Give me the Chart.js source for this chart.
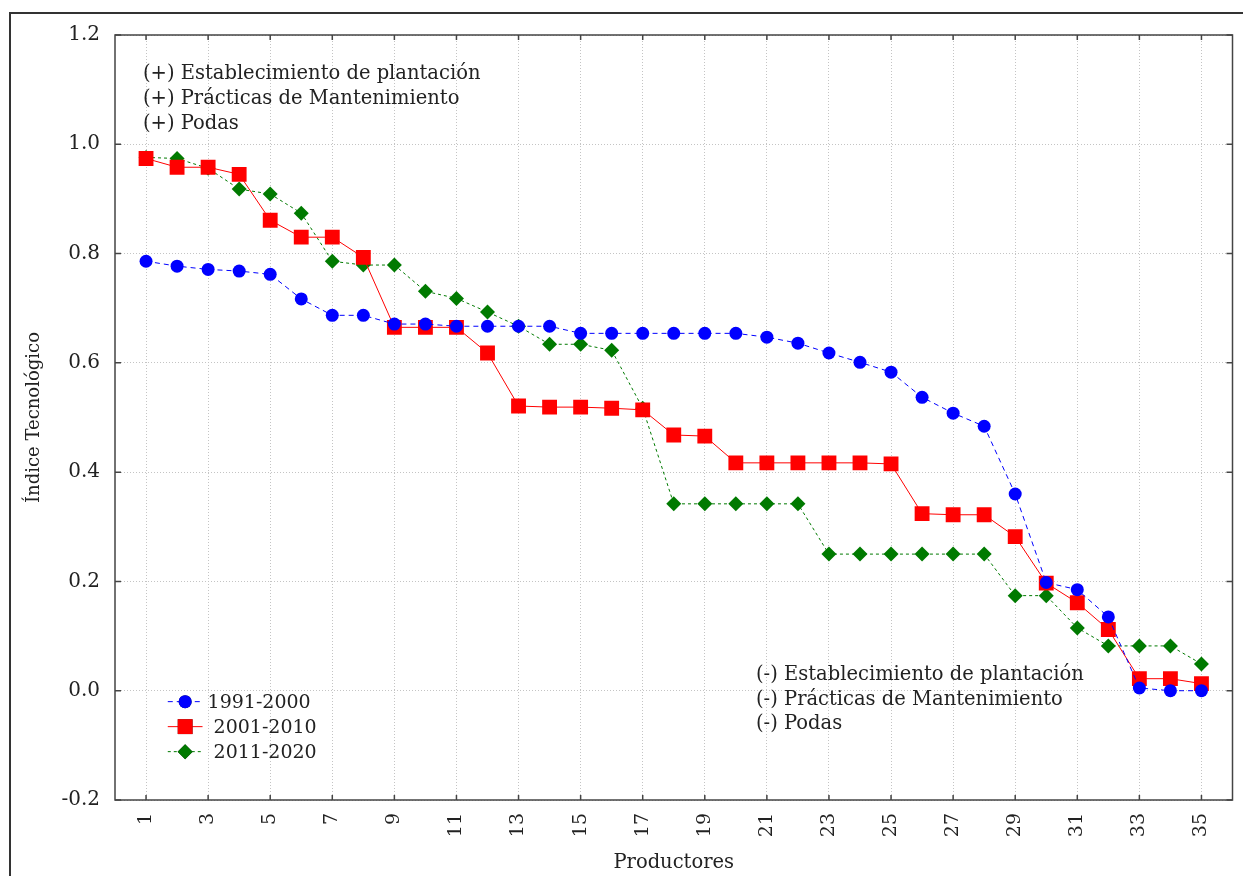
<!DOCTYPE html>
<html>
<head>
<meta charset="utf-8">
<script src="https://cdn.jsdelivr.net/npm/chart.js@4/dist/chart.umd.min.js"></script>
<style>
  body { margin: 0; background: #fff; }
  #wrap { width: 1243px; height: 876px; position: relative; }
</style>
</head>
<body>
<div id="wrap"><canvas id="chart"></canvas></div>
<script>
// Productores 1..35
const productores = [1, 2, 3, 4, 5, 6, 7, 8, 9, 10, 11, 12, 13, 14, 15, 16, 17, 18,
  19, 20, 21, 22, 23, 24, 25, 26, 27, 28, 29, 30, 31, 32, 33, 34, 35];
const xTickValues = [1, 3, 5, 7, 9, 11, 13, 15, 17, 19, 21, 23, 25, 27, 29, 31, 33, 35];
const yTickValues = [-0.2, 0.0, 0.2, 0.4, 0.6, 0.8, 1.0, 1.2];

const serie1991 = [0.786, 0.777, 0.771, 0.768, 0.762, 0.717, 0.687, 0.687, 0.671, 0.671,
  0.667, 0.667, 0.667, 0.667, 0.654, 0.654, 0.654, 0.654, 0.654, 0.654,
  0.647, 0.636, 0.618, 0.601, 0.583, 0.537, 0.508, 0.484, 0.360, 0.198,
  0.185, 0.135, 0.005, 0.0, 0.0];
const serie2001 = [0.974, 0.958, 0.958, 0.945, 0.861, 0.830, 0.830, 0.793, 0.665, 0.665,
  0.665, 0.618, 0.521, 0.519, 0.519, 0.517, 0.514, 0.468, 0.466, 0.417,
  0.417, 0.417, 0.417, 0.417, 0.415, 0.324, 0.322, 0.322, 0.282, 0.197,
  0.161, 0.112, 0.022, 0.022, 0.013];
const serie2011 = [0.976, 0.974, 0.956, 0.918, 0.909, 0.874, 0.786, 0.779, 0.779, 0.731,
  0.718, 0.693, 0.667, 0.634, 0.634, 0.623, 0.517, 0.342, 0.342, 0.342,
  0.342, 0.342, 0.250, 0.250, 0.250, 0.250, 0.250, 0.250, 0.174, 0.174,
  0.115, 0.082, 0.082, 0.082, 0.049];

const notaArriba = ["(+) Establecimiento de plantación", "(+) Prácticas de Mantenimiento", "(+) Podas"];
const notaAbajo = ["(-) Establecimiento de plantación", "(-) Prácticas de Mantenimiento", "(-) Podas"];

const serif = "'DejaVu Serif', 'Liberation Serif', serif";

function pts(vals) {
  return vals.map((v, i) => ({ x: productores[i], y: v }));
}

// frame, inward ticks, notes and the legend box
const extras = {
  id: "extras",
  afterDraw(chart) {
    const c = chart.ctx;
    const a = chart.chartArea;
    const xs = chart.scales.x, ys = chart.scales.y;
    c.save();
    // outer frame
    c.strokeStyle = "#333";
    c.lineWidth = 2;
    c.beginPath();
    c.moveTo(1243, 13); c.lineTo(10, 13); c.lineTo(10, 876);
    c.stroke();
    // plot frame
    c.strokeStyle = "#444";
    c.lineWidth = 1.5;
    c.strokeRect(a.left, a.top, a.right - a.left, a.bottom - a.top);
    // ticks pointing inward
    c.beginPath();
    xTickValues.forEach(v => {
      const px = xs.getPixelForValue(v);
      c.moveTo(px, a.bottom); c.lineTo(px, a.bottom - 5);
      c.moveTo(px, a.top); c.lineTo(px, a.top + 5);
    });
    yTickValues.forEach(v => {
      const py = ys.getPixelForValue(v);
      c.moveTo(a.left, py); c.lineTo(a.left + 6, py);
      c.moveTo(a.right, py); c.lineTo(a.right - 6, py);
    });
    c.stroke();
    // notes
    c.fillStyle = "#222";
    c.font = "19.5px " + serif;
    c.textBaseline = "middle";
    c.textAlign = "left";
    notaArriba.forEach((t, i) => {
      c.fillText(t, xs.getPixelForValue(0.9), ys.getPixelForValue(1.128) + i * 25);
    });
    notaAbajo.forEach((t, i) => {
      c.fillText(t, xs.getPixelForValue(20.65), ys.getPixelForValue(0.028) + i * 24.5);
    });
    // legend
    const lx0 = xs.getPixelForValue(1.7), lx1 = xs.getPixelForValue(2.82);
    const ly = ys.getPixelForValue(-0.02);
    c.font = "19px " + serif;
    chart.data.datasets.forEach((ds, i) => {
      const y = ly + i * 25;
      c.strokeStyle = ds.borderColor;
      c.lineWidth = 1;
      c.setLineDash(ds.borderDash || []);
      c.beginPath(); c.moveTo(lx0, y); c.lineTo(lx1, y); c.stroke();
      c.setLineDash([]);
      Chart.helpers.drawPoint(c, {
        pointStyle: ds.pointStyle, radius: ds.pointRadius, borderWidth: 0, rotation: 0
      }, (lx0 + lx1) / 2, y);
      c.fillStyle = ds.backgroundColor;
      c.fill();
      c.fillStyle = "#222";
      c.fillText(ds.label, lx1 + (i === 0 ? 5 : 11), y + 1);
    });
    c.restore();
  }
};

new Chart(document.getElementById("chart"), {
  type: "line",
  data: {
    datasets: [
      {
        label: "1991-2000",
        data: pts(serie1991),
        borderColor: "#0000ff",
        backgroundColor: "#0000ff",
        borderWidth: 1,
        borderDash: [5, 4],
        pointStyle: "circle",
        pointRadius: 6.5,
        pointBorderWidth: 0,
        tension: 0,
      },
      {
        label: "2001-2010",
        data: pts(serie2001),
        borderColor: "#ff0000",
        backgroundColor: "#ff0000",
        borderWidth: 1,
        pointStyle: "rect",
        pointRadius: 10.5,
        pointBorderWidth: 0,
        tension: 0,
      },
      {
        label: "2011-2020",
        data: pts(serie2011),
        borderColor: "#007a00",
        backgroundColor: "#007a00",
        borderWidth: 1,
        borderDash: [3, 3],
        pointStyle: "rectRot",
        pointRadius: 7.5,
        pointBorderWidth: 0,
        tension: 0,
      },
    ],
  },
  options: {
    responsive: true,
    maintainAspectRatio: false,
    animation: false,
    layout: { padding: { left: 22, right: 8, top: 35, bottom: 1 } },
    plugins: { legend: { display: false }, tooltip: { enabled: false } },
    scales: {
      x: {
        type: "linear",
        min: 0,
        max: 36,
        afterBuildTicks: (scale) => { scale.ticks = xTickValues.map(v => ({ value: v })); },
        afterFit: (scale) => { scale.height = 75; scale.paddingRight = 0; scale.paddingLeft = 0; },
        ticks: {
          autoSkip: false,
          minRotation: 90,
          maxRotation: 90,
          padding: 13,
          color: "#222",
          font: { family: serif, size: 19 },
        },
        grid: { color: "#c4c4c4", drawTicks: false },
        border: { display: false, dash: [1, 2] },
        title: {
          display: true,
          text: "Productores",
          color: "#222",
          font: { family: serif, size: 19.5 },
          padding: { top: 12, bottom: 0 },
        },
      },
      y: {
        min: -0.2,
        max: 1.2,
        afterBuildTicks: (scale) => { scale.ticks = yTickValues.map(v => ({ value: v })); },
        afterFit: (scale) => { scale.width = 93; },
        ticks: {
          padding: 15,
          color: "#222",
          font: { family: serif, size: 20 },
          callback: (v) => v.toFixed(1),
        },
        grid: { color: "#c4c4c4", drawTicks: false },
        border: { display: false, dash: [1, 2] },
        title: {
          display: true,
          text: "Índice Tecnológico",
          color: "#222",
          font: { family: serif, size: 18 },
          padding: { top: 2, bottom: 16 },
        },
      },
    },
  },
  plugins: [extras],
});
</script>
</body>
</html>
